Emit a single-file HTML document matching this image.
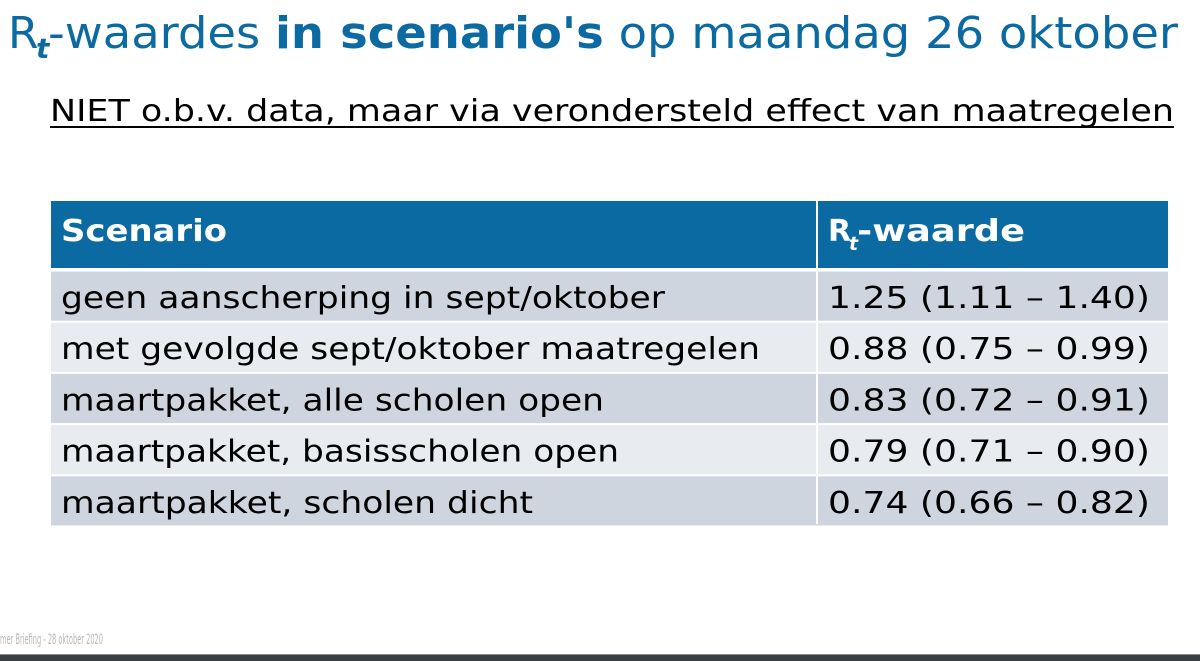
<!DOCTYPE html>
<html><head><meta charset="utf-8"><style>
html,body{margin:0;padding:0;background:#fff;}
svg{display:block;}
text{font-family:"DejaVu Sans","Liberation Sans",sans-serif;}
</style></head><body>
<svg width="1200" height="661" viewBox="0 0 1200 661">
<g fill="#0a6aa1">
<text x="8" y="48" font-size="44">R</text>
<text x="36" y="58" font-size="28" font-style="italic" font-weight="bold">t</text>
<text x="48" y="48" font-size="44" textLength="1130" lengthAdjust="spacingAndGlyphs">-waardes <tspan font-weight="bold">in scenario's</tspan> op maandag 26 oktober</text>
</g>
<text x="50" y="121" font-size="30" fill="#000" textLength="1124" lengthAdjust="spacingAndGlyphs">NIET o.b.v. data, maar via verondersteld effect van maatregelen</text>
<rect x="50" y="126" width="1124" height="2" fill="#000"/>

<g>
<rect x="51" y="201" width="1117" height="67" fill="#0a6aa1"/>
<rect x="816" y="201" width="2" height="323" fill="#fff"/>
<text x="61" y="241" font-size="30" font-weight="bold" fill="#fff" textLength="166" lengthAdjust="spacingAndGlyphs">Scenario</text>
<text x="828" y="241" font-size="30" font-weight="bold" fill="#fff">R</text>
<text x="849" y="250" font-size="19" font-weight="bold" font-style="italic" fill="#fff">t</text>
<text x="857" y="241" font-size="30" font-weight="bold" fill="#fff" textLength="168" lengthAdjust="spacingAndGlyphs">-waarde</text>
<g id="rows"></g>
</g>

<text x="0" y="644" font-size="14" fill="#b8b8b8" textLength="103" lengthAdjust="spacingAndGlyphs">mer Briefing - 28 oktober 2020</text>
<rect x="0" y="654" width="1200" height="1" fill="#8a8e92"/>
<rect x="0" y="655" width="1200" height="6" fill="#3a3f44"/>
</svg>
<script>
const scenarios=["geen aanscherping in sept/oktober","met gevolgde sept/oktober maatregelen","maartpakket, alle scholen open","maartpakket, basisscholen open","maartpakket, scholen dicht"];
const rtValues=["1.25 (1.11 \u2013 1.40)","0.88 (0.75 \u2013 0.99)","0.83 (0.72 \u2013 0.91)","0.79 (0.71 \u2013 0.90)","0.74 (0.66 \u2013 0.82)"];
const NS="http://www.w3.org/2000/svg";
const g=document.getElementById('rows');
const top0=270, rowH=51.2;
const leftW=[604,699,543,558,472];
scenarios.forEach((s,i)=>{
  const y=top0+i*rowH;
  const r=document.createElementNS(NS,'rect');
  r.setAttribute('x',51);r.setAttribute('y',y+1.5);r.setAttribute('width',1117);r.setAttribute('height',rowH-2);
  r.setAttribute('fill',i%2===0?'#cfd5df':'#e8ebf0');
  
  
  g.appendChild(r);
  const t=document.createElementNS(NS,'text');
  t.setAttribute('x',61);t.setAttribute('y',y+38);t.setAttribute('font-size',30);t.setAttribute('fill','#000');
  t.setAttribute('textLength',leftW[i]);t.setAttribute('lengthAdjust','spacingAndGlyphs');
  t.textContent=s;
  
  
  g.appendChild(t);
  const v=document.createElementNS(NS,'text');
  v.setAttribute('x',828);v.setAttribute('y',y+38);v.setAttribute('font-size',30);v.setAttribute('fill','#000');
  v.setAttribute('textLength',322);v.setAttribute('lengthAdjust','spacingAndGlyphs');
  v.textContent=rtValues[i];
  
  
  g.appendChild(v);
});
const d=document.createElementNS(NS,'rect');
d.setAttribute('x',816);d.setAttribute('y',268);d.setAttribute('width',2);d.setAttribute('height',256);d.setAttribute('fill','#fff');


g.appendChild(d);
</script>
</body></html>
